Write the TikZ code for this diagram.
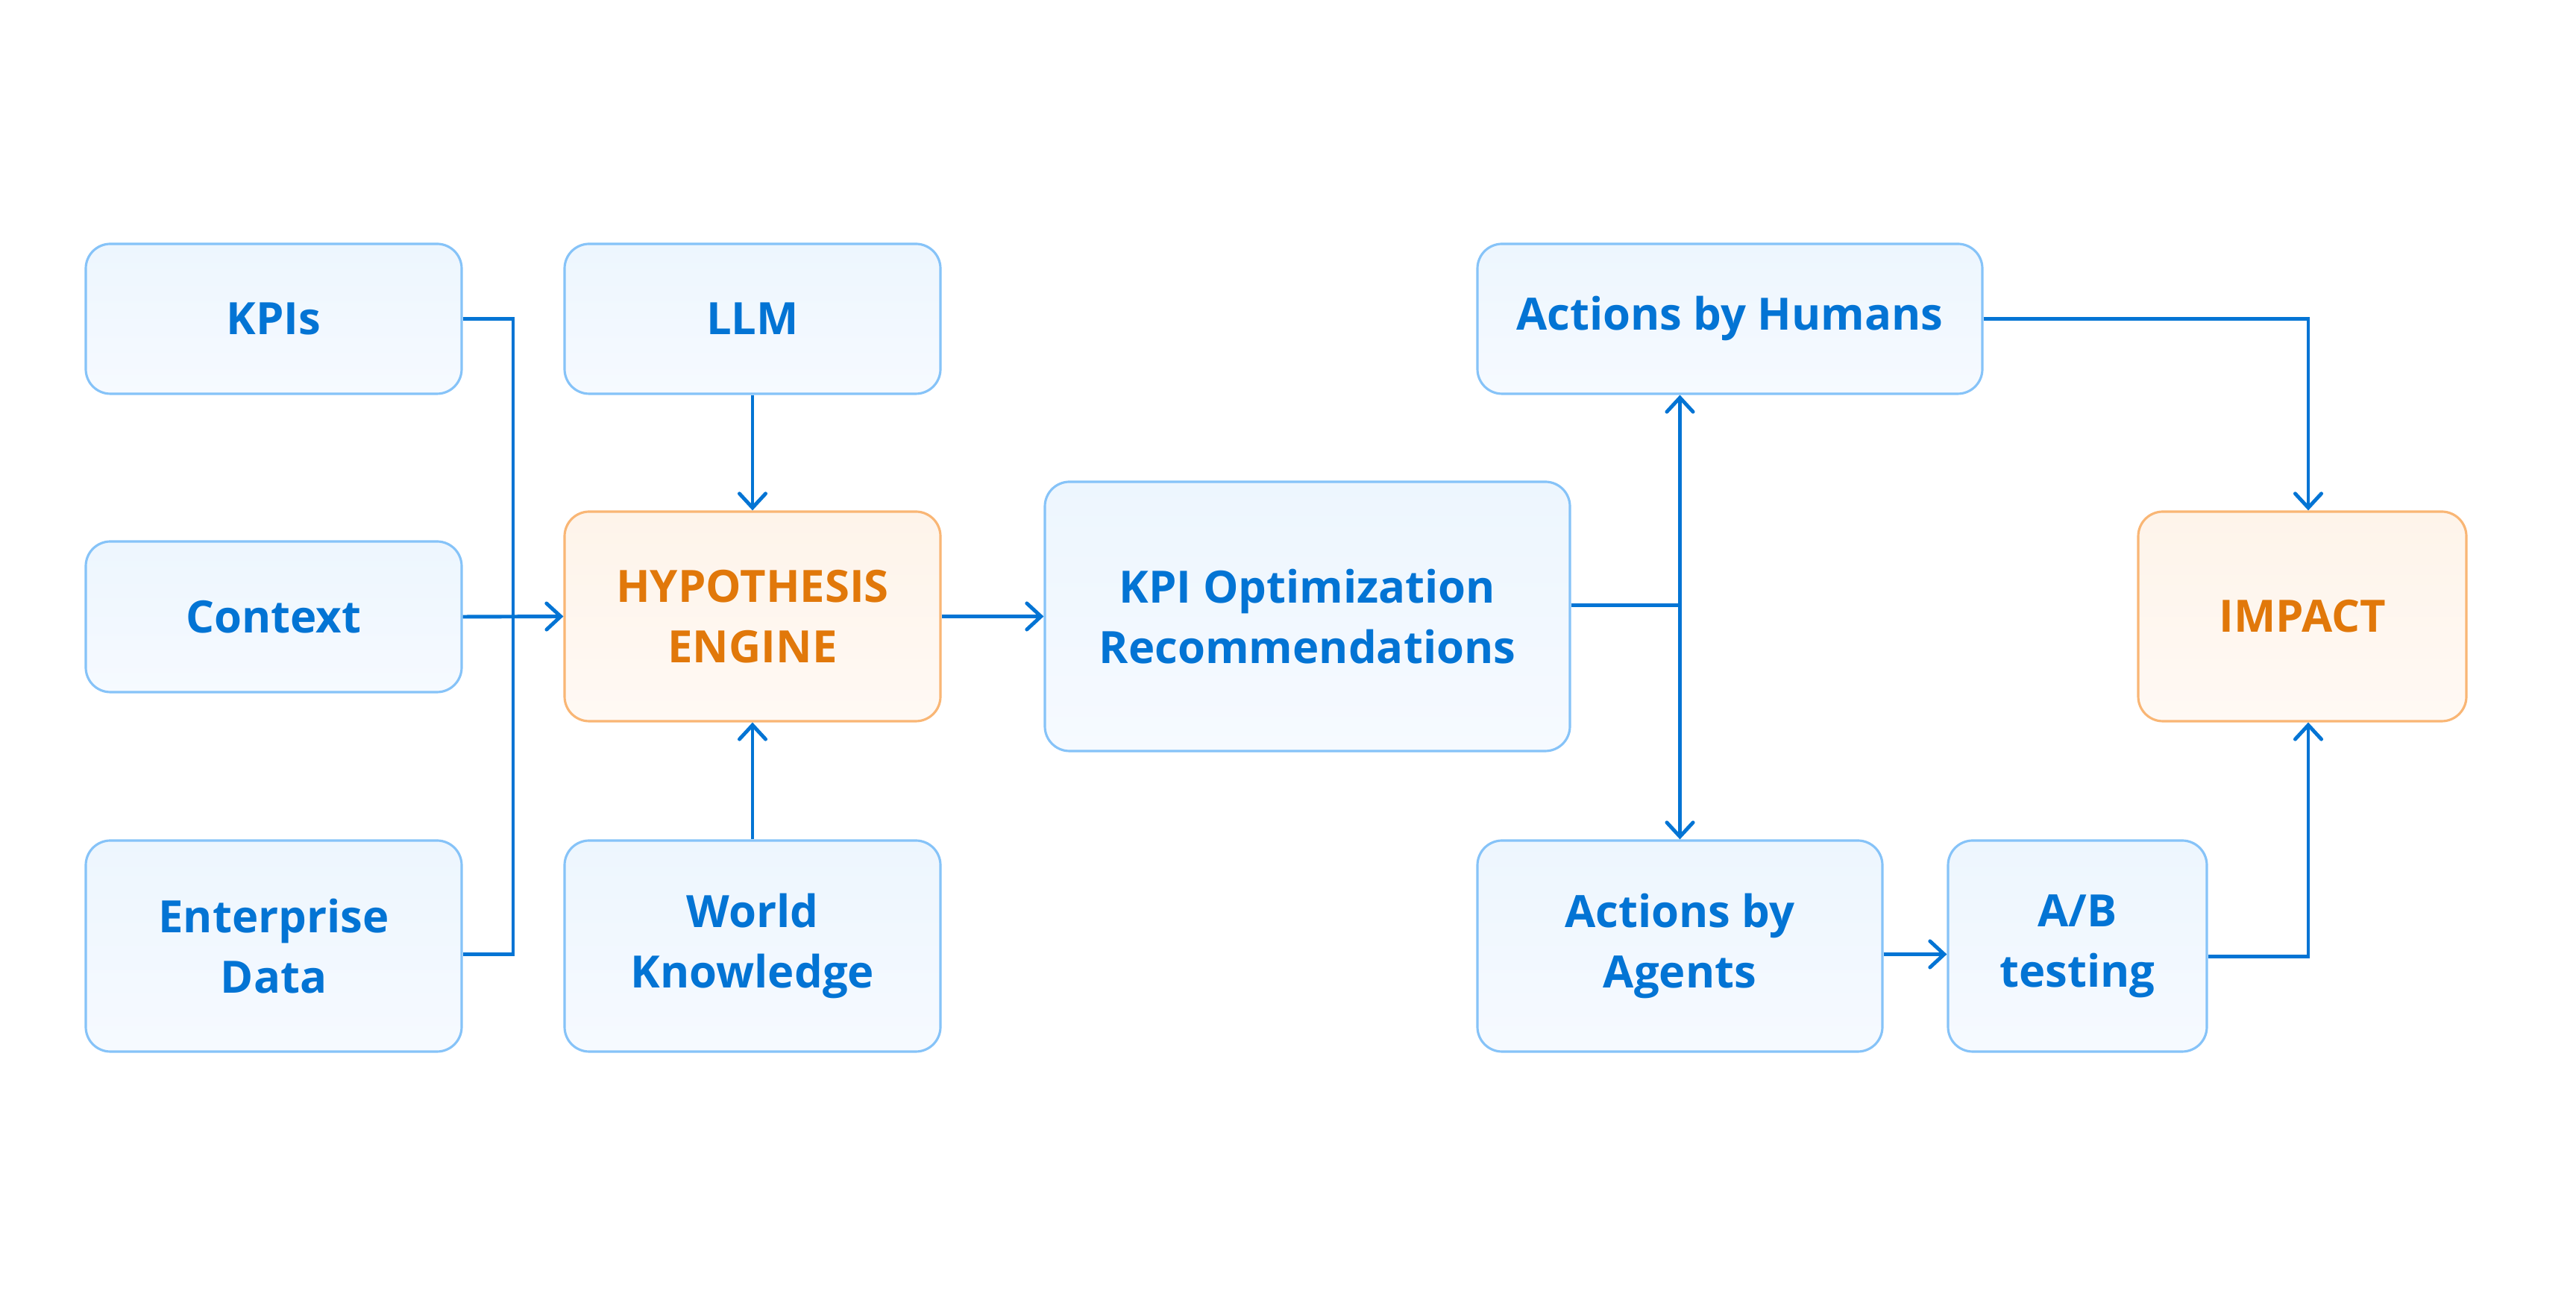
\documentclass[tikz,border=0pt]{standalone}
\usepackage{fontspec}
\setmainfont{Open Sans}
\usepackage{tikz}
\usetikzlibrary{shapes,arrows.meta,positioning,calc}

\definecolor{linkblue}{HTML}{0374D4}
\definecolor{boxedge}{HTML}{86C3F8}
\definecolor{boxtop}{HTML}{EDF6FE}
\definecolor{boxbottom}{HTML}{F6FAFF}
\definecolor{hottext}{HTML}{E1780A}
\definecolor{hotedge}{HTML}{F9B675}
\definecolor{hottop}{HTML}{FEF4EA}
\definecolor{hotbottom}{HTML}{FFF9F4}

\tikzset{
  blockbox/.style={shape=rectangle, rounded corners=9.4pt, draw=boxedge, line width=0.9pt,
    top color=boxtop, bottom color=boxbottom, text=linkblue, align=center, inner sep=0pt,
    font=\bfseries\fontsize{17}{23}\selectfont},
  hotbox/.style={blockbox, draw=hotedge, top color=hottop, bottom color=hotbottom, text=hottext},
  link/.style={draw=linkblue, line width=1.4pt},
  flow/.style={link, -{Straight Barb[length=5.4pt,width=10pt,line cap=round]}},
}

\begin{document}
\begin{tikzpicture}
\useasboundingbox (0,0) rectangle (34.54,17.35);

%draw input nodes
\node [blockbox, minimum width=5.04cm, minimum height=2.01cm] at (3.67,13.075) (kpis) {KPIs};
\node [blockbox, minimum width=5.04cm, minimum height=2.02cm] at (3.67,9.08) (context) {Context};
\node [blockbox, minimum width=5.04cm, minimum height=2.83cm] at (3.67,4.665) (enterprise) {Enterprise\\Data};
\node [blockbox, minimum width=5.04cm, minimum height=2.01cm] at (10.09,13.075) (llm) {LLM};
\node [blockbox, minimum width=5.04cm, minimum height=2.83cm] at (10.09,4.665) (world) {World\\Knowledge};

%engine and its output
\node [hotbox, minimum width=5.04cm, minimum height=2.81cm] at (10.09,9.085) (hyp) {HYPOTHESIS\\ENGINE};
\node [blockbox, minimum width=7.04cm, minimum height=3.61cm] at (17.53,9.085) (rec) {KPI Optimization\\Recommendations};

%actions and outcome
\node [blockbox, minimum width=6.77cm, minimum height=2.01cm] at (23.195,13.075) (humans) {Actions by Humans};
\node [blockbox, minimum width=5.43cm, minimum height=2.83cm] at (22.525,4.665) (agents) {Actions by\\Agents};
\node [blockbox, minimum width=3.47cm, minimum height=2.83cm] at (27.855,4.665) (ab) {A/B\\testing};
\node [hotbox, minimum width=4.40cm, minimum height=2.81cm] at (30.87,9.085) (impact) {IMPACT};

%Lines from inputs into the engine
\coordinate (bus) at (6.88,13.075);
\draw [link] (kpis.east) -- (bus) |- ([yshift=-1.1mm]enterprise.east);
\draw [flow] (context.east) -- (hyp.west);
\draw [flow] (llm.south) -- (hyp.north);
\draw [flow] (world.north) -- (hyp.south);
\draw [flow] (hyp.east) -- (rec.west);

%split to humans and agents
\coordinate (recout) at ([yshift=1.5mm]rec.east);
\coordinate (split) at (agents.north |- recout);
\draw [link] (recout) -- (split);
\draw [flow] (split) -- (split |- humans.south);
\draw [flow] (split) -- (agents.north);

%Right angle edges into impact
\draw [flow] (humans.east) -| ([xshift=0.8mm]impact.north);
\draw [flow] ([yshift=-1.1mm]agents.east) -- ([yshift=-1.1mm]ab.west);
\draw [flow] ([yshift=-1.4mm]ab.east) -| ([xshift=0.8mm]impact.south);

\end{tikzpicture}
\end{document}
